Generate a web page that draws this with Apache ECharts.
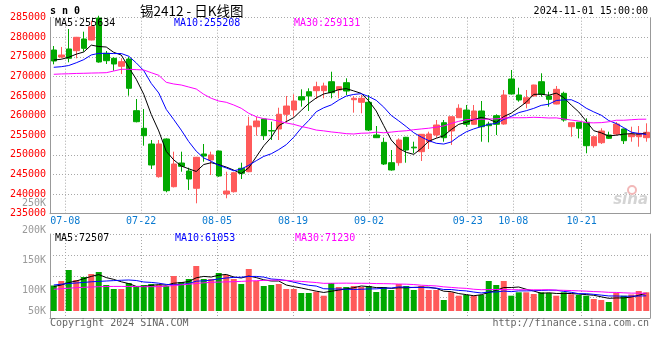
<!DOCTYPE html>
<html>
<head>
<meta charset="utf-8">
<script src="https://cdn.jsdelivr.net/npm/echarts@6/dist/echarts.min.js"></script>
<style>html,body{margin:0;padding:0;background:#fff}#c{width:660px;height:360px}</style>
</head>
<body>
<div id="c"></div>
<script>
const dates = ['07-04','07-05','07-08','07-09','07-10','07-11','07-12','07-15','07-16','07-17',
'07-18','07-19','07-22','07-23','07-24','07-25','07-26','07-29','07-30','07-31',
'08-01','08-02','08-05','08-06','08-07','08-08','08-09','08-12','08-13','08-14',
'08-15','08-16','08-19','08-20','08-21','08-22','08-23','08-26','08-27','08-28',
'08-29','08-30','09-02','09-03','09-04','09-05','09-06','09-09','09-10','09-11',
'09-12','09-13','09-18','09-19','09-20','09-23','09-24','09-25','09-26','09-27',
'09-30','10-08','10-09','10-10','10-11','10-14','10-15','10-16','10-17','10-18',
'10-21','10-22','10-23','10-24','10-25','10-28','10-29','10-30','10-31','11-01'];
const tickLabels = ['07-08','07-22','08-05','08-19','09-02','09-23','10-08','10-21'];

const opens = [276760,274970,277020,276580,279570,279310,284920,275920,274640,272600,
274460,261280,256790,252780,244440,254060,241890,247930,245890,241480,
250230,248700,250990,240030,240610,246580,245710,257190,259160,256200,
256610,260360,261450,264850,266120,266380,266380,268670,266560,268420,
264080,263420,263420,255080,253210,248010,248010,254490,251980,250820,
253370,255080,258210,256100,259490,261450,257810,261200,257880,260000,
257880,269360,265280,263160,265030,268670,265030,262980,265710,257190,
258320,258320,252350,253110,255080,255330,256610,254640,254640,254390];
const closes = [273950,275480,274640,280000,277190,282700,273700,274030,273190,273780,
266990,258470,254900,247420,252780,240870,247680,247090,243850,249390,
249720,249980,244620,240790,245460,245310,257370,258650,254900,256100,
260360,262470,263750,264010,265030,267400,267580,265870,267400,266300,
264440,264440,256350,254390,247680,246150,253800,251250,251800,255250,
255330,257630,254390,259740,261890,257810,261200,257190,257450,257810,
265280,265540,264010,264590,267830,265460,264180,266730,258900,258210,
256790,252350,254640,256100,254230,257880,253620,255250,255510,255770];
const lows = [273110,274640,273620,274640,276330,279200,273520,273190,271480,270640,
265100,258300,252350,246400,244180,240460,241700,245710,241050,237650,
248260,244870,244400,238930,240400,243850,245600,254900,253800,253800,
253800,258210,259740,262300,261200,264260,264440,264440,264440,265280,
260770,260610,256100,254300,247420,245970,247240,248010,250410,248440,
251500,254390,253370,252530,259400,257190,257700,253370,253210,255080,
257700,265400,263570,261890,264900,264850,262300,262900,258470,254640,
254230,250410,251840,252780,254060,254900,252780,253370,252090,253370];
const highs = [277780,277530,282120,280100,281430,284230,285500,276510,274900,274640,
275050,264260,261710,253800,253800,254200,250820,250820,246730,249500,
252780,250820,251100,245710,245600,248010,259740,259740,259200,258470,
262040,265030,265460,266730,266990,268670,268420,271220,267500,269540,
265030,265280,265280,257370,254390,251250,254230,254600,253370,255300,
255920,258900,258900,259800,262910,262730,262730,263750,258470,260360,
266560,271660,267140,266560,267900,270820,266120,267580,266120,258300,
258400,259340,254700,256790,255920,258400,256700,257190,257370,258060];

const ma5 = [274200,274400,274900,275700,276252,278002,277646,277524,276162,275480,
272338,269292,265466,260312,256112,250888,248730,247168,246454,245776,
247546,248006,247512,246900,246114,245232,246710,249516,252338,254466,
257476,258496,259516,261338,263124,264532,265554,265978,266656,266910,
266318,265690,263786,261184,257460,253802,251674,250654,250136,251650,
253486,254252,254880,256468,257796,258292,259006,259566,259108,258292,
259786,260654,262018,263446,265450,265486,265214,265758,264620,262696,
260962,258596,256178,255618,254822,255040,255294,255416,255298,255606];
const ma10 = [272350,272500,272800,273500,274300,275500,275900,275900,275850,275866,
275170,273469,271495,268237,265796,261613,259011,256317,253383,250944,
249217,248368,247340,246677,245945,246389,247358,248514,249619,250290,
251354,252603,254516,256838,258795,261004,262025,262747,263997,265017,
265425,265622,264882,263920,262185,260060,258682,257220,255660,254555,
253644,252963,252767,253302,254723,255889,256629,257223,257788,258044,
259039,259830,260792,261277,261871,262636,262934,263888,264033,264073,
263224,261905,260968,260119,258759,258001,256945,255797,255458,255214];
const ma30 = [270560,270650,270700,270780,270820,270880,270920,270970,271400,271840,
271840,271750,271660,270970,270300,268520,268090,267830,267320,266810,
265460,264440,263750,263420,262730,261890,260610,259740,259230,259033,
258580,258147,257784,257251,256845,256335,256131,255859,255666,255417,
255332,255531,255579,255812,255642,255818,256022,256160,256425,256621,
256808,257063,257388,258020,258568,258984,259112,259063,259148,259205,
259369,259472,259480,259500,259593,259528,259415,259444,259160,258891,
258636,258233,258176,258233,258451,258842,258836,258969,259093,259110];

const volumes = [103300,121500,166050,125550,137700,149850,157950,105300,89100,89100,
113400,101250,105300,109350,105300,101250,141750,117450,129600,182250,
129600,129600,153900,145800,129600,109350,170100,121500,101250,105300,
109350,89100,89100,72900,72900,78170,61970,113400,97200,97200,
101250,97200,101250,76950,97200,85050,109350,101250,85050,101250,
85050,85050,44550,75740,61970,64800,61970,64800,121500,105300,
121500,61970,75740,75740,68850,75740,72900,61970,75740,67640,
64800,61970,48600,44550,36450,72900,61970,66830,81000,75740];
const volMa5 = [99200,105300,115400,121500,130800,140100,147400,135300,128000,118300,
111000,99600,99600,103700,106900,104500,112600,115000,119100,134500,
140100,137700,145000,148200,137700,133700,141800,135300,126400,121500,
121500,105300,98800,93200,86700,80400,75000,79900,84700,89600,
94200,101300,98800,94800,94800,91500,94000,94000,95600,96400,
96400,91500,80200,78300,70500,66400,61800,65900,75000,83700,
95000,95000,97200,88000,80800,71600,73800,71000,71000,70800,
68600,66400,63700,57500,51300,52900,52900,56500,63800,71700];
const volMa10 = [105300,108500,111400,113400,115800,118300,119900,121500,123100,124500,
125600,123500,117500,115800,112600,107700,106100,107300,111400,120700,
122300,125100,130000,133700,136100,136900,139700,140100,137300,129600,
127600,123500,117000,109800,104100,101000,90200,89300,88900,88100,
87300,88100,89300,89700,92200,92900,97600,96400,95200,95600,
94000,92700,87100,87000,83400,81400,76700,73000,76700,77100,
80700,78400,81500,81500,82200,83300,84400,84100,79500,75800,
70100,70100,67400,64300,61000,60800,59700,60100,60700,61500];
const volMa30 = [87900,90300,92300,94400,96000,97200,98400,99200,99600,99600,
99200,98800,98400,98400,98800,100400,103300,106100,108500,111400,
114200,116200,117000,117900,118700,119900,121500,122700,123900,124900,
125100,124100,121500,119800,117600,115200,112000,112300,112600,112800,
112400,112300,112100,111100,110800,110200,109100,108600,107100,104400,
103000,101500,97800,95500,93200,91700,88100,86300,86900,86900,
87300,86400,86000,86100,85900,85900,86200,84500,83800,82800,
81600,80400,78700,77600,75600,75200,73600,72400,72300,71400];

const priceLegend = ['MA5:255634','MA10:255208','MA30:259131'];
const volLegend = ['MA5:72507','MA10:61053','MA30:71230'];
const volTickLabels = ['250K','200K','150K','100K','50K'];
const titleText = '锡2412 - 日K线图';
const symbolText = 's n 0';
const timeText = '2024-11-01 15:00:00';

const RED = '#ff5a5a', GREEN = '#00a800';
const MONO = '"DejaVu Sans Mono", monospace';
const GRID_C = '#a8a8a8', BORDER_C = '#999';
const dotted = {color: GRID_C, type: [1, 2], width: 1};

const kData = opens.map((o, i) => [o, closes[i], lows[i], highs[i]]);
const isTick = (idx, val) => tickLabels.indexOf(val) >= 0;

const chart = echarts.init(document.getElementById('c'), null, {renderer: 'canvas'});
const lineS = (name, data, color, xi, yi) => ({
  name, type: 'line', data, xAxisIndex: xi, yAxisIndex: yi, showSymbol: false, symbol: 'none',
  silent: true, lineStyle: {color, width: 1}, itemStyle: {color}, z: 5, animation: false
});

const txt = (text, x, y, fill, font, align) => ({
  type: 'text', z: 100, silent: true,
  style: {text, x, y, fill, font, align: align || 'left', verticalAlign: 'middle',
          textAlign: align || 'left', textVerticalAlign: 'middle'}
});
const volLabelY = [203, 230.5, 260.5, 290.5, 311];

chart.setOption({
  animation: false,
  backgroundColor: '#fff',
  grid: [
    {left: 50, top: 17.7, width: 600, height: 196},
    {left: 50, top: 234, width: 600, height: 84}
  ],
  xAxis: [
    {type: 'category', gridIndex: 0, data: dates, boundaryGap: true, position: 'bottom',
     axisLine: {show: true, onZero: false, lineStyle: {color: BORDER_C}}, axisTick: {show: false},
     axisLabel: {show: false}, splitLine: {show: false}},
    {type: 'category', gridIndex: 0, data: dates, boundaryGap: false, position: 'bottom',
     axisLine: {show: false, onZero: false}, axisTick: {show: false},
     axisLabel: {show: true, interval: isTick, color: '#0a7ad0', fontFamily: MONO, fontSize: 10, margin: 3},
     splitLine: {show: true, interval: isTick, lineStyle: dotted}},
    {type: 'category', gridIndex: 1, data: dates, boundaryGap: true, position: 'bottom',
     axisLine: {show: true, onZero: false, lineStyle: {color: BORDER_C}}, axisTick: {show: false},
     axisLabel: {show: false}, splitLine: {show: false}},
    {type: 'category', gridIndex: 1, data: dates, boundaryGap: false, position: 'bottom',
     axisLine: {show: false, onZero: false}, axisTick: {show: false}, axisLabel: {show: false},
     splitLine: {show: true, interval: isTick, lineStyle: dotted}}
  ],
  yAxis: [
    {type: 'value', gridIndex: 0, position: 'left', min: 235000, max: 285000, interval: 5000,
     axisLine: {show: true, lineStyle: {color: BORDER_C}}, axisTick: {show: false},
     axisLabel: {color: '#ff0000', fontFamily: MONO, fontSize: 10, margin: 4, padding: [0, 0, 4, 0],
                 formatter: v => String(v)},
     splitLine: {show: true, lineStyle: dotted}},
    {type: 'value', gridIndex: 0, position: 'right', min: 235000, max: 285000, interval: 5000,
     axisLine: {show: true, lineStyle: {color: BORDER_C}}, axisTick: {show: false},
     axisLabel: {show: false}, splitLine: {show: false}},
    {type: 'value', gridIndex: 1, position: 'left', min: -28350, max: 311850,
     axisLine: {show: true, onZero: false, lineStyle: {color: BORDER_C}}, axisTick: {show: false},
     axisLabel: {show: false}, splitLine: {show: false}},
    {type: 'value', gridIndex: 1, position: 'right', min: 0, max: 4, interval: 1,
     axisLine: {show: true, onZero: false, lineStyle: {color: BORDER_C}}, axisTick: {show: false},
     axisLabel: {show: false}, splitLine: {show: true, lineStyle: dotted}}
  ],
  series: [
    {type: 'candlestick', data: kData, xAxisIndex: 0, yAxisIndex: 0, barWidth: 6, clip: false,
     silent: true, z: 3,
     itemStyle: {color: RED, color0: GREEN, borderColor: RED, borderColor0: GREEN, borderWidth: 1}},
    lineS('MA5', ma5, '#000000', 0, 0),
    lineS('MA10', ma10, '#0000ff', 0, 0),
    lineS('MA30', ma30, '#ff00ff', 0, 0),
    {type: 'bar', data: volumes, xAxisIndex: 2, yAxisIndex: 2, barWidth: 6, silent: true, z: 3,
     itemStyle: {color: p => closes[p.dataIndex] >= opens[p.dataIndex] ? RED : GREEN}},
    lineS('VMA5', volMa5, '#000000', 2, 2),
    lineS('VMA10', volMa10, '#0000ff', 2, 2),
    lineS('VMA30', volMa30, '#ff00ff', 2, 2)
  ],
  graphic: [
    txt(symbolText, 50, 11.5, '#000', 'bold 10px ' + MONO),
    txt(titleText, 140, 11, '#000', '13.5px "Noto Sans CJK SC"'),
    txt(timeText, 648, 11.5, '#000', '10px ' + MONO, 'right'),
    txt(priceLegend[0], 55, 23.5, '#000', '10px ' + MONO),
    txt(priceLegend[1], 174, 23.5, '#0000ff', '10px ' + MONO),
    txt(priceLegend[2], 294, 23.5, '#ff00ff', '10px ' + MONO),
    txt(volLegend[0], 55, 238.5, '#000', '10px ' + MONO),
    txt(volLegend[1], 175, 238.5, '#0000ff', '10px ' + MONO),
    txt(volLegend[2], 295, 238.5, '#ff00ff', '10px ' + MONO),
    ...volTickLabels.map((t, i) => txt(t, 46, volLabelY[i], '#9a9a9a', '10px ' + MONO, 'right')),
    txt('Copyright 2024 SINA.COM', 50, 323.5, '#666', '10px ' + MONO),
    txt('http://finance.sina.com.cn', 649, 323.5, '#666', '10px ' + MONO, 'right'),
    {type: 'circle', z: 1, silent: true, shape: {cx: 632, cy: 190, r: 4},
     style: {fill: 'none', stroke: '#f2b8b8', lineWidth: 2}},
    txt('sina', 648, 200, '#d4d4d4', 'italic bold 15px "DejaVu Sans"', 'right')
  ]
});
</script>
</body>
</html>
